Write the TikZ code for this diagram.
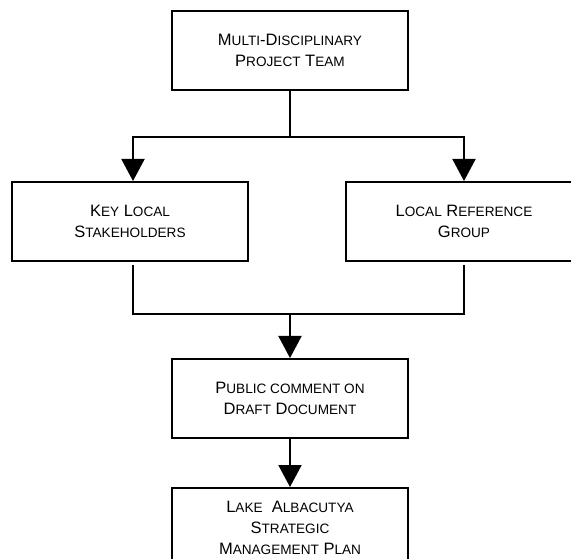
\documentclass[tikz,border=0pt]{standalone}
\usepackage{fontspec}
\setmainfont{Liberation Sans}
\usetikzlibrary{positioning, arrows.meta}
\newcommand{\sml}[1]{{\fontsize{13.6}{21}\selectfont #1}}

\begin{document}
\begin{tikzpicture}[
        x=1pt, y=1pt,
        font=\fontsize{16.5}{21}\selectfont,
        stage/.style={draw, line width=2pt, align=center, minimum width=236pt, minimum height=79pt, inner sep=0pt},
        arrow/.style={-{Triangle[length=22pt, width=23pt]}, line width=2pt},
        link/.style={line width=2pt}
    ]
    \clip (-290,50.5) rectangle (281,-508.5);
    % Nodes
    \node[stage] (team) at (0,0) {M\sml{ULTI}-D\sml{ISCIPLINARY}\\P\sml{ROJECT} T\sml{EAM}};
    \node[stage, below=90pt of team, xshift=-160pt] (kls) {K\sml{EY} L\sml{OCAL}\\S\sml{TAKEHOLDERS}};
    \node[stage, right=96pt of kls] (lrg) {L\sml{OCAL} R\sml{EFERENCE}\\G\sml{ROUP}};
    \node[stage, below=267pt of team] (pub) {P\sml{UBLIC COMMENT ON}\\D\sml{RAFT} D\sml{OCUMENT}};
    \node[stage, below=48pt of pub] (plan) {L\sml{AKE}\ \ A\sml{LBACUTYA}\\S\sml{TRATEGIC}\\M\sml{ANAGEMENT} P\sml{LAN}};

    \coordinate[below=46pt of team] (split);
    \coordinate[above=44pt of pub] (merge);

    % Connectors
    \draw[link] (team.south) -- (split);
    \draw[arrow] (split) -| ([xshift=3pt]kls.north);
    \draw[arrow] (split) -| (lrg.north);
    \draw[link, shorten <=3pt, shorten >=3pt] ([xshift=3pt]kls.south) |- (merge) -| (lrg.south);
    \draw[arrow] (merge) -- (pub);
    \draw[arrow] (pub) -- (plan);
\end{tikzpicture}
\end{document}
